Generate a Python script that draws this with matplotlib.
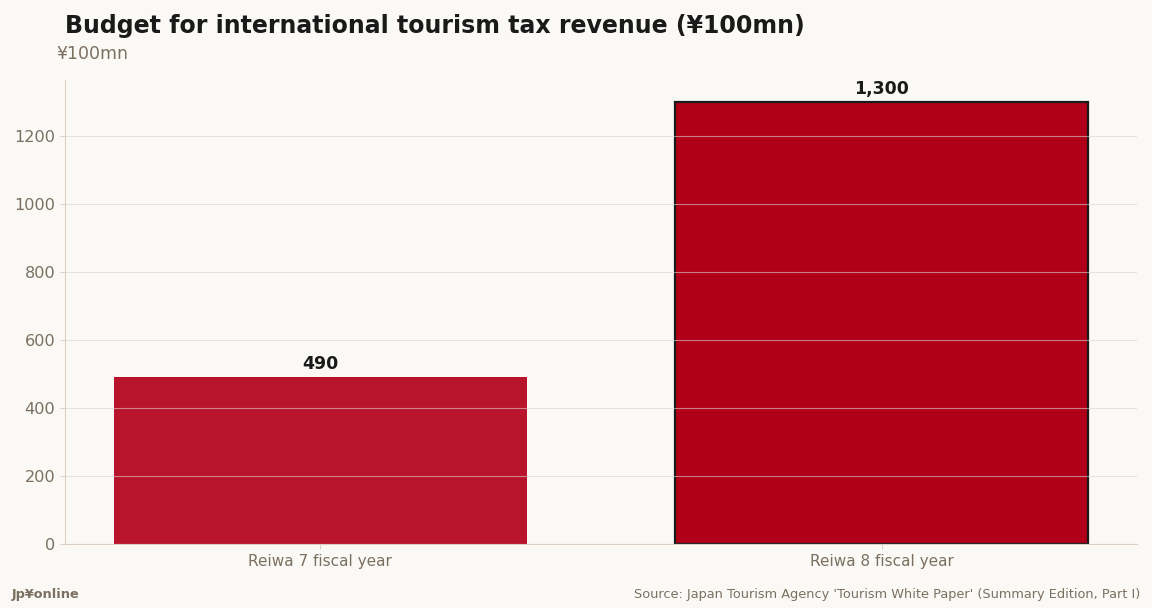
import matplotlib
matplotlib.use("Agg")
import matplotlib.pyplot as plt

plt.rcParams["font.family"] = ["DejaVu Sans"]

categories = ["Reiwa 7 fiscal year", "Reiwa 8 fiscal year"]
values = [490, 1300]
value_labels = ["490", "1,300"]
bar_colors = ["#b8142b", "#b00018"]

bg = "#fbf9f6"
muted = "#7a7060"
spine_col = "#d9d0c3"

fig = plt.figure(figsize=(11.52, 6.08), dpi=100, facecolor=bg)
ax = fig.add_axes([0.0564, 0.1053, 0.9306, 0.7631], facecolor=bg)

x = range(len(categories))
bars = ax.bar(x, values, width=0.737, color=bar_colors, zorder=2)
bars[1].set_edgecolor("#1a1a1a")
bars[1].set_linewidth(1.6)

for xi, v, lab in zip(x, values, value_labels):
    ax.text(xi, v + 12, lab, ha="center", va="bottom", fontsize=12.5,
            fontweight="bold", color="#1a1a1a")

ax.set_xlim(-0.455, 1.455)
ax.set_ylim(0, 1365)
ax.set_yticks([0, 200, 400, 600, 800, 1000, 1200])
ax.set_xticks(list(x))
ax.set_xticklabels(categories)
ax.tick_params(colors=spine_col, labelcolor=muted, labelsize=11)
ax.tick_params(axis="y", labelsize=11.6)
ax.grid(axis="y", color="#ddd4cc", alpha=0.6, linewidth=0.8, zorder=3)
ax.set_axisbelow(False)
for s in ["top", "right"]:
    ax.spines[s].set_visible(False)
for s in ["left", "bottom"]:
    ax.spines[s].set_color(spine_col)

fig.text(0.0564, 0.958, "Budget for international tourism tax revenue (¥100mn)",
         fontsize=17, fontweight="bold", color="#1a1a1a", va="center")
fig.text(0.0486, 0.911, "¥100mn", fontsize=12.5, color=muted, va="center")
fig.text(0.0104, 0.022, "Jp¥online", fontsize=9.3, fontweight="bold", color=muted, va="center")
fig.text(0.9895, 0.022, "Source: Japan Tourism Agency 'Tourism White Paper' (Summary Edition, Part I)",
         fontsize=9.3, color=muted, ha="right", va="center")

fig.savefig("out.png", dpi=100, facecolor=bg)
